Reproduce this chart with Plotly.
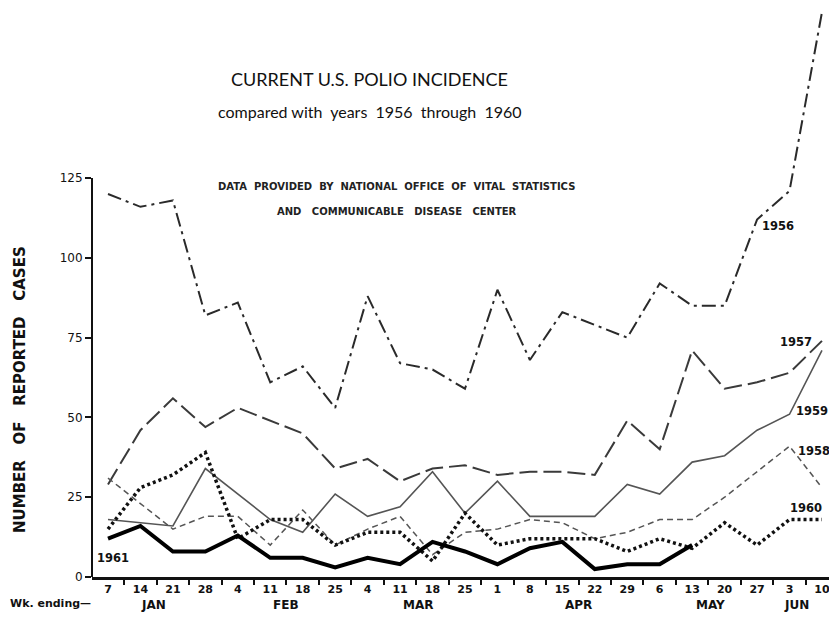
import plotly.graph_objects as go

# ---------------- data ----------------
week_ending = ["Jan 7", "Jan 14", "Jan 21", "Jan 28",
               "Feb 4", "Feb 11", "Feb 18", "Feb 25",
               "Mar 4", "Mar 11", "Mar 18", "Mar 25",
               "Apr 1", "Apr 8", "Apr 15", "Apr 22", "Apr 29",
               "May 6", "May 13", "May 20", "May 27",
               "Jun 3", "Jun 10"]
day_labels = [w.split()[1] for w in week_ending]
month_names = ["JAN", "FEB", "MAR", "APR", "MAY", "JUN"]
y_tick_values = [0, 25, 50, 75, 100, 125]

cases_1956 = [120, 116, 118, 82, 86, 61, 66, 53, 88, 67, 65, 59, 90, 68, 83, 79, 75, 92, 85, 85, 112, 121, 177]
cases_1957 = [29, 46, 56, 47, 53, 49, 45, 34, 37, 30, 34, 35, 32, 33, 33, 32, 49, 40, 71, 59, 61, 64, 74]
cases_1958 = [31, 23, 15, 19, 19, 10, 21, 10, 15, 19, 7, 14, 15, 18, 17, 12, 14, 18, 18, 25, 33, 41, 28]
cases_1959 = [18, 17, 16, 34, 26, 18, 14, 26, 19, 22, 33, 20, 30, 19, 19, 19, 29, 26, 36, 38, 46, 51, 71]
cases_1960 = [15, 28, 32, 39, 12, 18, 18, 10, 14, 14, 5, 20, 10, 12, 12, 12, 8, 12, 9, 17, 10, 18, 18]
cases_1961 = [12, 16, 8, 8, 13, 6, 6, 3, 6, 4, 11, 8, 4, 9, 11, 2.5, 4, 4, 10]

# ---------------- styles / layout positions ----------------
series = [
    ("1956", cases_1956, dict(color="#2a2a2a", width=2, dash="14px,5px,3px,5px")),
    ("1957", cases_1957, dict(color="#3a3a3a", width=2, dash="18px,6px")),
    ("1958", cases_1958, dict(color="#555555", width=1.5, dash="6px,4px")),
    ("1959", cases_1959, dict(color="#555555", width=1.6, dash="solid")),
    ("1960", cases_1960, dict(color="#111111", width=3.5, dash="3px,3px")),
    ("1961", cases_1961, dict(color="#000000", width=4, dash="solid")),
]
# label positions (category index, value)
label_pos = {"1956": (20.65, 110), "1957": (21.2, 73.5), "1958": (21.75, 39.5),
             "1959": (21.68, 52), "1960": (21.5, 21.5), "1961": (0.15, 6)}
month_pos = [1.4, 5.5, 9.55, 14.5, 18.55, 21.2]

fig = go.Figure()
for name, vals, style in series:
    fig.add_trace(go.Scatter(
        x=week_ending[:len(vals)], y=vals, mode="lines", name=name,
        line=dict(shape="linear", **style), showlegend=False,
    ))

label_font = dict(family="DejaVu Sans", size=11.5, color="#111", weight="bold")
annotations = []
for name, (lx, ly) in label_pos.items():
    annotations.append(dict(x=lx, y=ly, xref="x", yref="y", text=name,
                            showarrow=False, font=label_font))

for m, mx in zip(month_names, month_pos):
    annotations.append(dict(x=mx, y=-0.049, xref="x", yref="paper", text=m,
                            showarrow=False, yanchor="middle",
                            font=dict(family="DejaVu Sans", size=12, color="#111", weight="bold")))

annotations += [
    dict(x=-0.1134, y=-0.046, xref="paper", yref="paper",
         text="Wk. ending\u2014", showarrow=False, xanchor="left", yanchor="middle",
         font=dict(family="DejaVu Sans", size=11, color="#111", weight="bold")),
    dict(x=0.375, y=156.2, xref="paper", yref="y", text="CURRENT U.S. POLIO INCIDENCE",
         showarrow=False, font=dict(family="Lato", size=18, color="#111")),
    dict(x=0.375, y=145.8, xref="paper", yref="y", text="compared with  years  1956  through  1960",
         showarrow=False, font=dict(family="Lato", size=16, color="#111")),
    dict(x=0.4116, y=122.3, xref="paper", yref="y",
         text="DATA  PROVIDED  BY  NATIONAL  OFFICE  OF  VITAL  STATISTICS",
         showarrow=False, font=dict(family="DejaVu Sans", size=10, color="#222", weight="bold")),
    dict(x=0.4116, y=114.5, xref="paper", yref="y",
         text="AND   COMMUNICABLE   DISEASE   CENTER",
         showarrow=False, font=dict(family="DejaVu Sans", size=10, color="#222", weight="bold")),
    dict(x=-0.112, y=58.6, xref="paper", yref="y", text="NUMBER   OF   REPORTED   CASES",
         textangle=-90, showarrow=False,
         font=dict(family="DejaVu Sans", size=15, color="#111", weight="bold")),
]

fig.update_layout(
    width=829, height=613,
    margin=dict(l=84, r=4, t=0, b=44),
    paper_bgcolor="white", plot_bgcolor="white",
    annotations=annotations,
    shapes=[dict(type="line", xref="paper", yref="y", x0=0, x1=0, y0=0, y1=125,
                 line=dict(color="#111", width=2))],
    xaxis=dict(type="category", categoryorder="array", categoryarray=week_ending,
               range=[-0.493, 22.34], tickmode="array", tickvals=week_ending,
               ticktext=day_labels, tickson="boundaries", ticks="outside",
               ticklen=5, tickwidth=1.5, tickcolor="#111",
               showline=True, linecolor="#111", linewidth=2.5,
               showgrid=False, zeroline=False,
               tickfont=dict(family="DejaVu Sans", size=11, color="#111", weight="bold")),
    yaxis=dict(range=[0, 178.3], tickmode="array", tickvals=y_tick_values,
               ticks="outside", ticklen=6, tickwidth=1.5, tickcolor="#111",
               showline=False, showgrid=False, zeroline=False,
               tickfont=dict(family="DejaVu Sans", size=12, color="#111")),
)

fig.write_html("out.html")
